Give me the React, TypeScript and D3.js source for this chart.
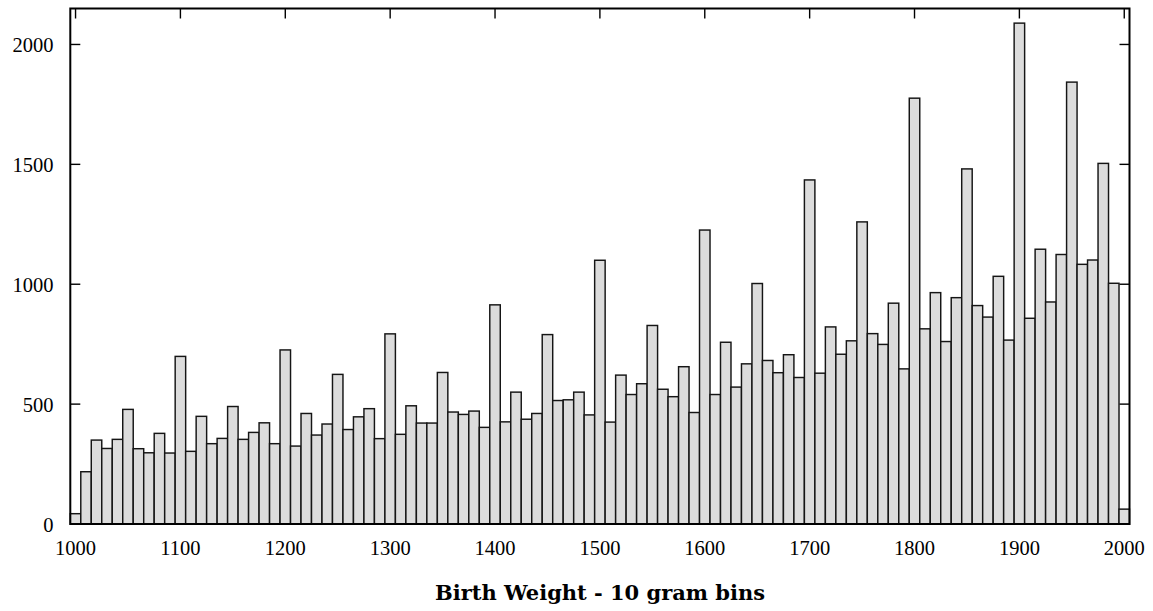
import React from "react";
import * as d3 from "d3";

// Bin centres (grams)
const bins: number[] = d3.range(1000, 2001, 10);

// Counts per 10 gram bin
const counts: number[] = [
  43, 218, 350, 315, 353, 478, 314, 297, 378, 296,
  699, 303, 449, 335, 357, 490, 353, 382, 422, 335,
  726, 325, 461, 371, 417, 624, 394, 447, 481, 356,
  793, 374, 493, 421, 421, 632, 467, 457, 471, 403,
  914, 426, 550, 437, 461, 790, 515, 518, 550, 455,
  1100, 425, 621, 540, 585, 828, 562, 531, 656, 465,
  1226, 540, 758, 571, 668, 1003, 682, 631, 706, 611,
  1435, 629, 822, 708, 764, 1260, 794, 749, 921, 647,
  1776, 814, 965, 761, 944, 1481, 911, 863, 1033, 767,
  2089, 858, 1146, 926, 1124, 1843, 1083, 1101, 1504, 1004,
  62,
];

const xTicks: number[] = [1000, 1100, 1200, 1300, 1400, 1500, 1600, 1700, 1800, 1900, 2000];
const yTicks: number[] = [0, 500, 1000, 1500, 2000];
const binWidth = 10;
const title = "Birth Weight - 10 gram bins";

const W = 1153;
const H = 611;
const left = 70.3;
const right = 1129.5;
const top = 8.5;
const bottom = 524;

export default function App() {
  const x = d3.scaleLinear().domain([995, 2005]).range([left, right]);
  const y = d3.scaleLinear().domain([0, 2150]).range([bottom, top]);
  const tickFont = "'Liberation Serif', 'Times New Roman', serif";

  return (
    <svg
      width={W}
      height={H}
      viewBox={`0 0 ${W} ${H}`}
      style={{ position: "absolute", left: 0, top: 0, background: "#fff" }}
    >
      {/* bottom ticks (behind bars) */}
      {xTicks.map((t) => (
        <line key={"bt" + t} x1={x(t)} x2={x(t)} y1={bottom} y2={bottom - 9} stroke="#000" strokeWidth={1.3} />
      ))}
      {/* bars */}
      {bins.map((b, i) => (
        <rect
          key={"bar" + b}
          x={x(b - binWidth / 2)}
          width={x(b + binWidth / 2) - x(b - binWidth / 2)}
          y={y(counts[i])}
          height={y(0) - y(counts[i])}
          fill="#dcdcdc"
          stroke="#151515"
          strokeWidth={1.45}
        />
      ))}
      {/* frame */}
      <rect x={left} y={top} width={right - left} height={bottom - top} fill="none" stroke="#000" strokeWidth={2} />
      {/* top ticks */}
      {xTicks.map((t) => (
        <line key={"tt" + t} x1={x(t)} x2={x(t)} y1={top} y2={top + 10} stroke="#000" strokeWidth={1.4} />
      ))}
      {/* left & right ticks */}
      {yTicks.map((t) => (
        <g key={"yt" + t}>
          <line x1={left} x2={left + 10} y1={y(t)} y2={y(t)} stroke="#000" strokeWidth={1.4} />
          <line x1={right} x2={right - 10} y1={y(t)} y2={y(t)} stroke="#000" strokeWidth={1.4} />
        </g>
      ))}
      {/* x tick labels */}
      {xTicks.map((t) => (
        <text key={"xl" + t} x={x(t)} y={555} textAnchor="middle" fontFamily={tickFont} fontSize={20.5} fill="#000">
          {t}
        </text>
      ))}
      {/* y tick labels */}
      {yTicks.map((t) => (
        <text key={"yl" + t} x={53.5} y={y(t) + 8} textAnchor="end" fontFamily={tickFont} fontSize={20.5} fill="#000">
          {t}
        </text>
      ))}
      {/* title */}
      <text
        x={600}
        y={599.5}
        textAnchor="middle"
        fontFamily="'DejaVu Serif', serif"
        fontWeight="bold"
        fontSize={20}
        textLength={330}
        lengthAdjust="spacingAndGlyphs"
        fill="#000"
      >
        {title}
      </text>
    </svg>
  );
}
